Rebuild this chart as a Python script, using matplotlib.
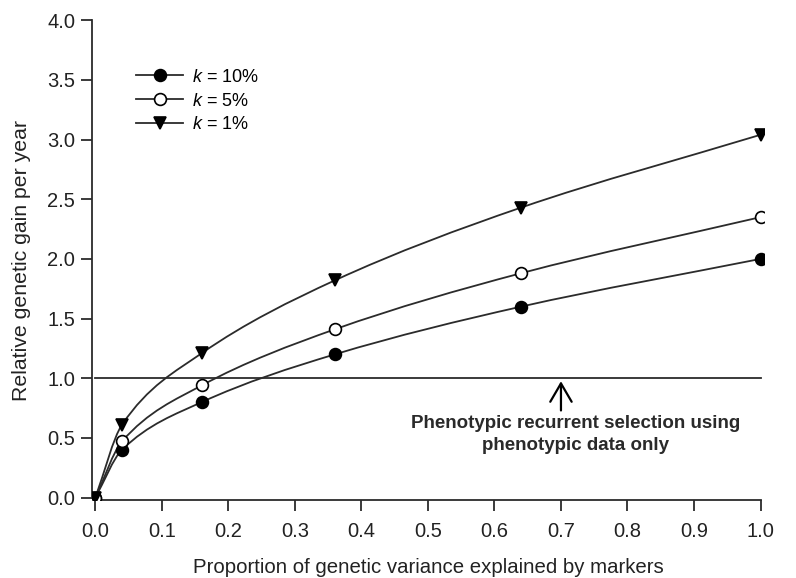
import matplotlib
matplotlib.use("Agg")
import matplotlib.pyplot as plt
import numpy as np
from matplotlib.path import Path
from matplotlib.patches import PathPatch
from matplotlib.lines import Line2D

plt.rcParams['font.family'] = ['Liberation Sans', 'DejaVu Sans']
plt.rcParams['mathtext.fontset'] = 'custom'
plt.rcParams['mathtext.it'] = 'Liberation Sans:italic'
plt.rcParams['mathtext.rm'] = 'Liberation Sans'

# data
prop = [0.0, 0.04, 0.16, 0.36, 0.64, 1.0]
gain_k10 = [0.0, 0.40, 0.80, 1.20, 1.60, 2.00]
gain_k5 = [0.0, 0.47, 0.94, 1.41, 1.88, 2.35]
gain_k1 = [0.0, 0.61, 1.21, 1.82, 2.43, 3.04]
labels = ['$k$ = 10%', '$k$ = 5%', '$k$ = 1%']
baseline = 1.0
note = 'Phenotypic recurrent selection using\nphenotypic data only'

line_col = '#2b2b2b'


def smooth_path(x, y):
    # monotone cubic (Fritsch-Carlson) drawn as bezier segments through the points
    x = np.asarray(x, float)
    y = np.asarray(y, float)
    h = np.diff(x)
    d = np.diff(y) / h
    m = np.zeros_like(x)
    m[0] = d[0]
    m[-1] = d[-1]
    for i in range(1, len(x) - 1):
        if d[i - 1] * d[i] <= 0:
            m[i] = 0
        else:
            w1 = 2 * h[i] + h[i - 1]
            w2 = h[i] + 2 * h[i - 1]
            m[i] = (w1 + w2) / (w1 / d[i - 1] + w2 / d[i])
    verts = [(x[0], y[0])]
    codes = [Path.MOVETO]
    for i in range(len(x) - 1):
        verts += [(x[i] + h[i] / 3, y[i] + m[i] * h[i] / 3),
                  (x[i + 1] - h[i] / 3, y[i + 1] - m[i + 1] * h[i] / 3),
                  (x[i + 1], y[i + 1])]
        codes += [Path.CURVE4] * 3
    return Path(verts, codes)


fig = plt.figure(figsize=(7.96, 5.78), dpi=100)
ax = fig.add_axes([0.1156, 0.135, 0.844, 0.830])

series = [(gain_k10, 'o', 'black'), (gain_k5, 'o', 'white'), (gain_k1, 'v', 'black')]
for vals, mk, fc in series:
    ax.add_patch(PathPatch(smooth_path(prop, vals), facecolor='none',
                           edgecolor=line_col, lw=1.3, zorder=2))
    ax.plot(prop, vals, linestyle='none', marker=mk, markersize=8.5,
            markerfacecolor=fc, markeredgecolor='black',
            markeredgewidth=1.2, zorder=3)

ax.plot([0, 1], [baseline, baseline], color=line_col, lw=1.3, zorder=1)

ax.annotate('', xy=(0.7, 0.975), xytext=(0.7, 0.73),
            arrowprops=dict(arrowstyle='->,head_length=0.6,head_width=0.35',
                            color='black', lw=1.6,
                            mutation_scale=22, shrinkA=0, shrinkB=0))
ax.text(0.722, 0.695, note, ha='center', va='top', fontsize=13.5,
        fontweight='bold', color='#2a2a2a', linespacing=1.4)

# legend with line through the marker
leg_handles = [Line2D([], [], color=line_col, lw=1.3, marker=mk, markersize=8.5,
                      markerfacecolor=fc, markeredgecolor='black',
                      markeredgewidth=1.2)
               for (vals, mk, fc) in series]
ax.legend(leg_handles, labels, loc='upper left', bbox_to_anchor=(0.055, 0.914),
          frameon=False, fontsize=13, handlelength=2.6, handletextpad=0.5,
          labelspacing=0.38, borderaxespad=0)

ax.set_xlim(-0.005, 1.005)
ax.set_ylim(-0.02, 4.0)
ax.set_xticks(np.arange(0, 1.01, 0.1))
ax.set_xticklabels(['%.1f' % v for v in np.arange(0, 1.01, 0.1)])
ax.set_yticks(np.arange(0, 4.01, 0.5))
ax.set_yticklabels(['%.1f' % v for v in np.arange(0, 4.01, 0.5)])
ax.spines['top'].set_visible(False)
ax.spines['right'].set_visible(False)
ax.spines['left'].set_bounds(0, 4.0)
ax.spines['bottom'].set_bounds(0, 1.0)
for s in ['left', 'bottom']:
    ax.spines[s].set_color(line_col)
    ax.spines[s].set_linewidth(1.3)
ax.tick_params(direction='out', length=8, width=1.3, color=line_col,
               labelsize=14.5, labelcolor='#222222')
ax.tick_params(axis='x', pad=8)
ax.tick_params(axis='y', pad=4)
ax.set_xlabel('Proportion of genetic variance explained by markers',
              fontsize=14.7, color='#222222', labelpad=12)
ax.set_ylabel('Relative genetic gain per year', fontsize=15.3,
              color='#222222', labelpad=12)

fig.savefig('out.png', dpi=100)
